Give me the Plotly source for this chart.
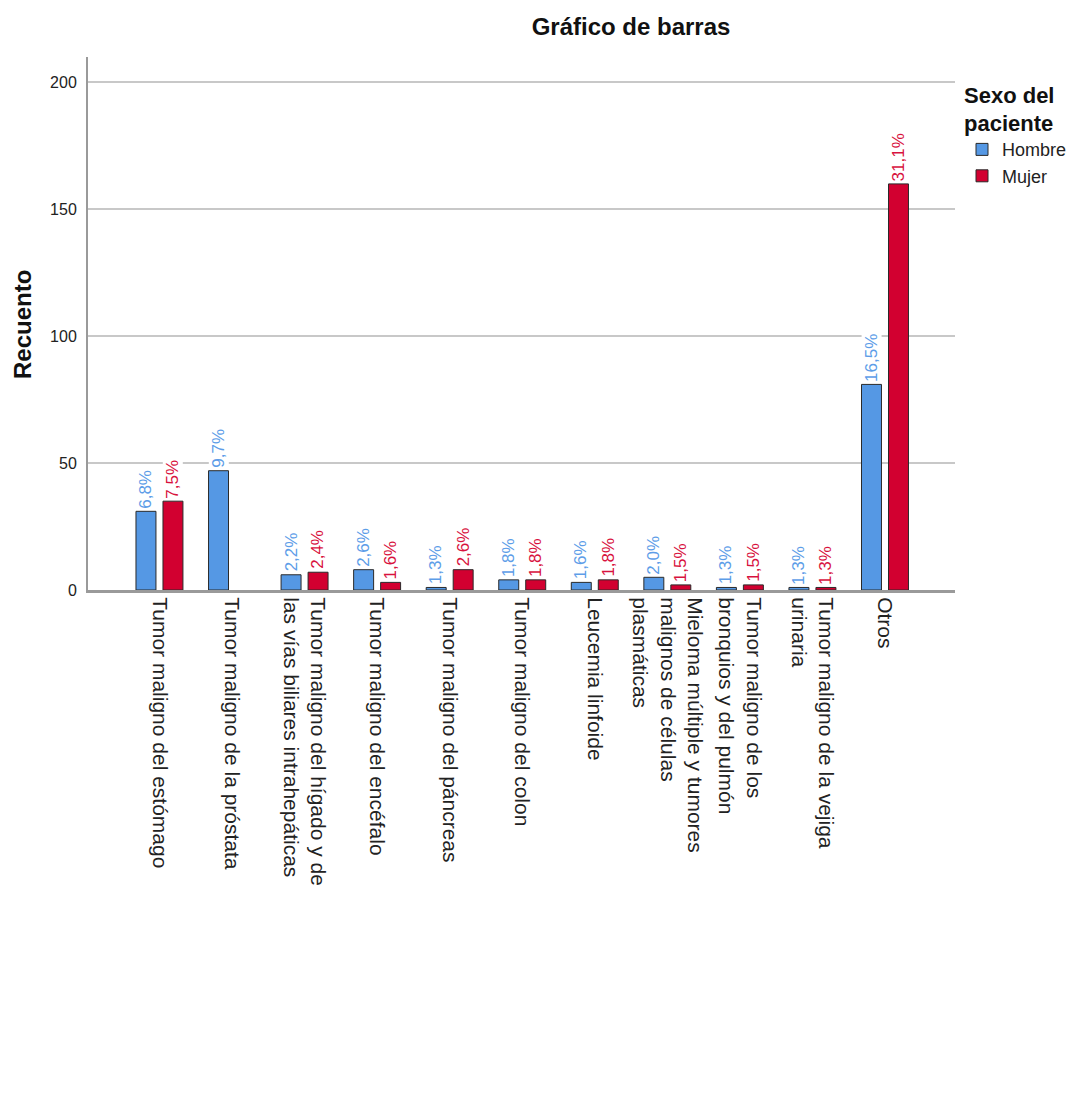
import plotly.graph_objects as go

# Diagnosis categories (x axis)
categorias = [
    "Tumor maligno del estómago",
    "Tumor maligno de la próstata",
    "Tumor maligno del hígado y de<br>las vías biliares intrahepáticas",
    "Tumor maligno del encéfalo",
    "Tumor maligno del páncreas",
    "Tumor maligno del colon",
    "Leucemia linfoide",
    "Mieloma múltiple y tumores<br>malignos de células<br>plasmáticas",
    "Tumor maligno de los<br>bronquios y del pulmón",
    "Tumor maligno de la vejiga<br>urinaria",
    "Otros",
]

# Counts per sex (None = no bar drawn)
recuento_hombre = [31, 47, 6, 8, 1, 4, 3, 5, 1, 1, 81]
recuento_mujer = [35, None, 7, 3, 8, 4, 4, 2, 2, 1, 160]

# Percentage labels shown above each bar
pct_hombre = ["6,8%", "9,7%", "2,2%", "2,6%", "1,3%", "1,8%", "1,6%", "2,0%", "1,3%", "1,3%", "16,5%"]
pct_mujer = ["7,5%", None, "2,4%", "1,6%", "2,6%", "1,8%", "1,8%", "1,5%", "1,5%", "1,3%", "31,1%"]

y_ticks = [0, 50, 100, 150, 200]

AZUL = "#5598E4"
ROJO = "#D20030"
AZUL_TXT = "#5D9DE8"
ROJO_TXT = "#D8123E"
FONT = "Liberation Sans, Arial, sans-serif"

fig = go.Figure()
fig.add_trace(go.Bar(
    name="Hombre", x=categorias, y=recuento_hombre,
    marker=dict(color=AZUL, line=dict(color="#2a2a2a", width=1)),
))
fig.add_trace(go.Bar(
    name="Mujer", x=categorias, y=recuento_mujer,
    marker=dict(color=ROJO, line=dict(color="#2a2a2a", width=1)),
))

# Rotated percentage labels sitting on top of each bar
offset = 0.186
annotations = []
for i in range(len(categorias)):
    for vals, labels, dx, col in (
        (recuento_hombre, pct_hombre, -offset, AZUL_TXT),
        (recuento_mujer, pct_mujer, offset, ROJO_TXT),
    ):
        if vals[i] is None or labels[i] is None:
            continue
        annotations.append(dict(
            x=i + dx, y=vals[i], xref="x", yref="y",
            text=labels[i], textangle=-90, showarrow=False,
            xanchor="center", yanchor="bottom", yshift=2,
            bgcolor="white", borderpad=0,
            font=dict(family=FONT, size=17, color=col),
        ))

W, H = 1069, 1095
L, R, T, B = 88, 114, 57, 505
pw, ph = W - L - R, H - T - B

# Axis title placed in pixel terms
annotations.append(dict(
    x=(22 - L) / pw, y=1 - (325 - T) / ph, xref="paper", yref="paper",
    text="<b>Recuento</b>", textangle=-90, showarrow=False,
    xanchor="center", yanchor="middle",
    font=dict(family=FONT, size=24, color="#111"),
))

fig.update_layout(
    width=W, height=H,
    margin=dict(l=L, r=R, t=T, b=B, autoexpand=False),
    paper_bgcolor="white", plot_bgcolor="white",
    barmode="group", bargap=0.256, bargroupgap=0.26,
    title=dict(
        text="<b>Gráfico de barras</b>", x=631 / W, xanchor="center",
        y=1 - 27 / H, yanchor="middle",
        font=dict(family=FONT, size=24, color="#111"),
    ),
    font=dict(family=FONT, color="#222"),
    legend=dict(
        title=dict(text="<b>Sexo del<br>paciente</b>", font=dict(family=FONT, size=22, color="#111")),
        x=(962 - L) / pw, xanchor="left", y=1 - (74 - T) / ph, yanchor="top",
        font=dict(family=FONT, size=18, color="#222"),
        bgcolor="rgba(0,0,0,0)", tracegroupgap=0, itemwidth=30,
    ),
    annotations=annotations,
    xaxis=dict(
        type="category", range=[-0.985, 10.965],
        tickangle=90, tickfont=dict(family=FONT, size=21, color="#222"),
        showline=True, linecolor="#9a9a9a", linewidth=3,
        showgrid=False, ticks="", zeroline=False,
    ),
    yaxis=dict(
        range=[0, 210], tickvals=y_ticks,
        tickfont=dict(family=FONT, size=16, color="#222"),
        showline=True, linecolor="#9a9a9a", linewidth=2,
        showgrid=True, gridcolor="#c8c8c8", gridwidth=2,
        zeroline=False, ticks="", ticklabelstandoff=6,
    ),
)

fig.write_html("out.html")
